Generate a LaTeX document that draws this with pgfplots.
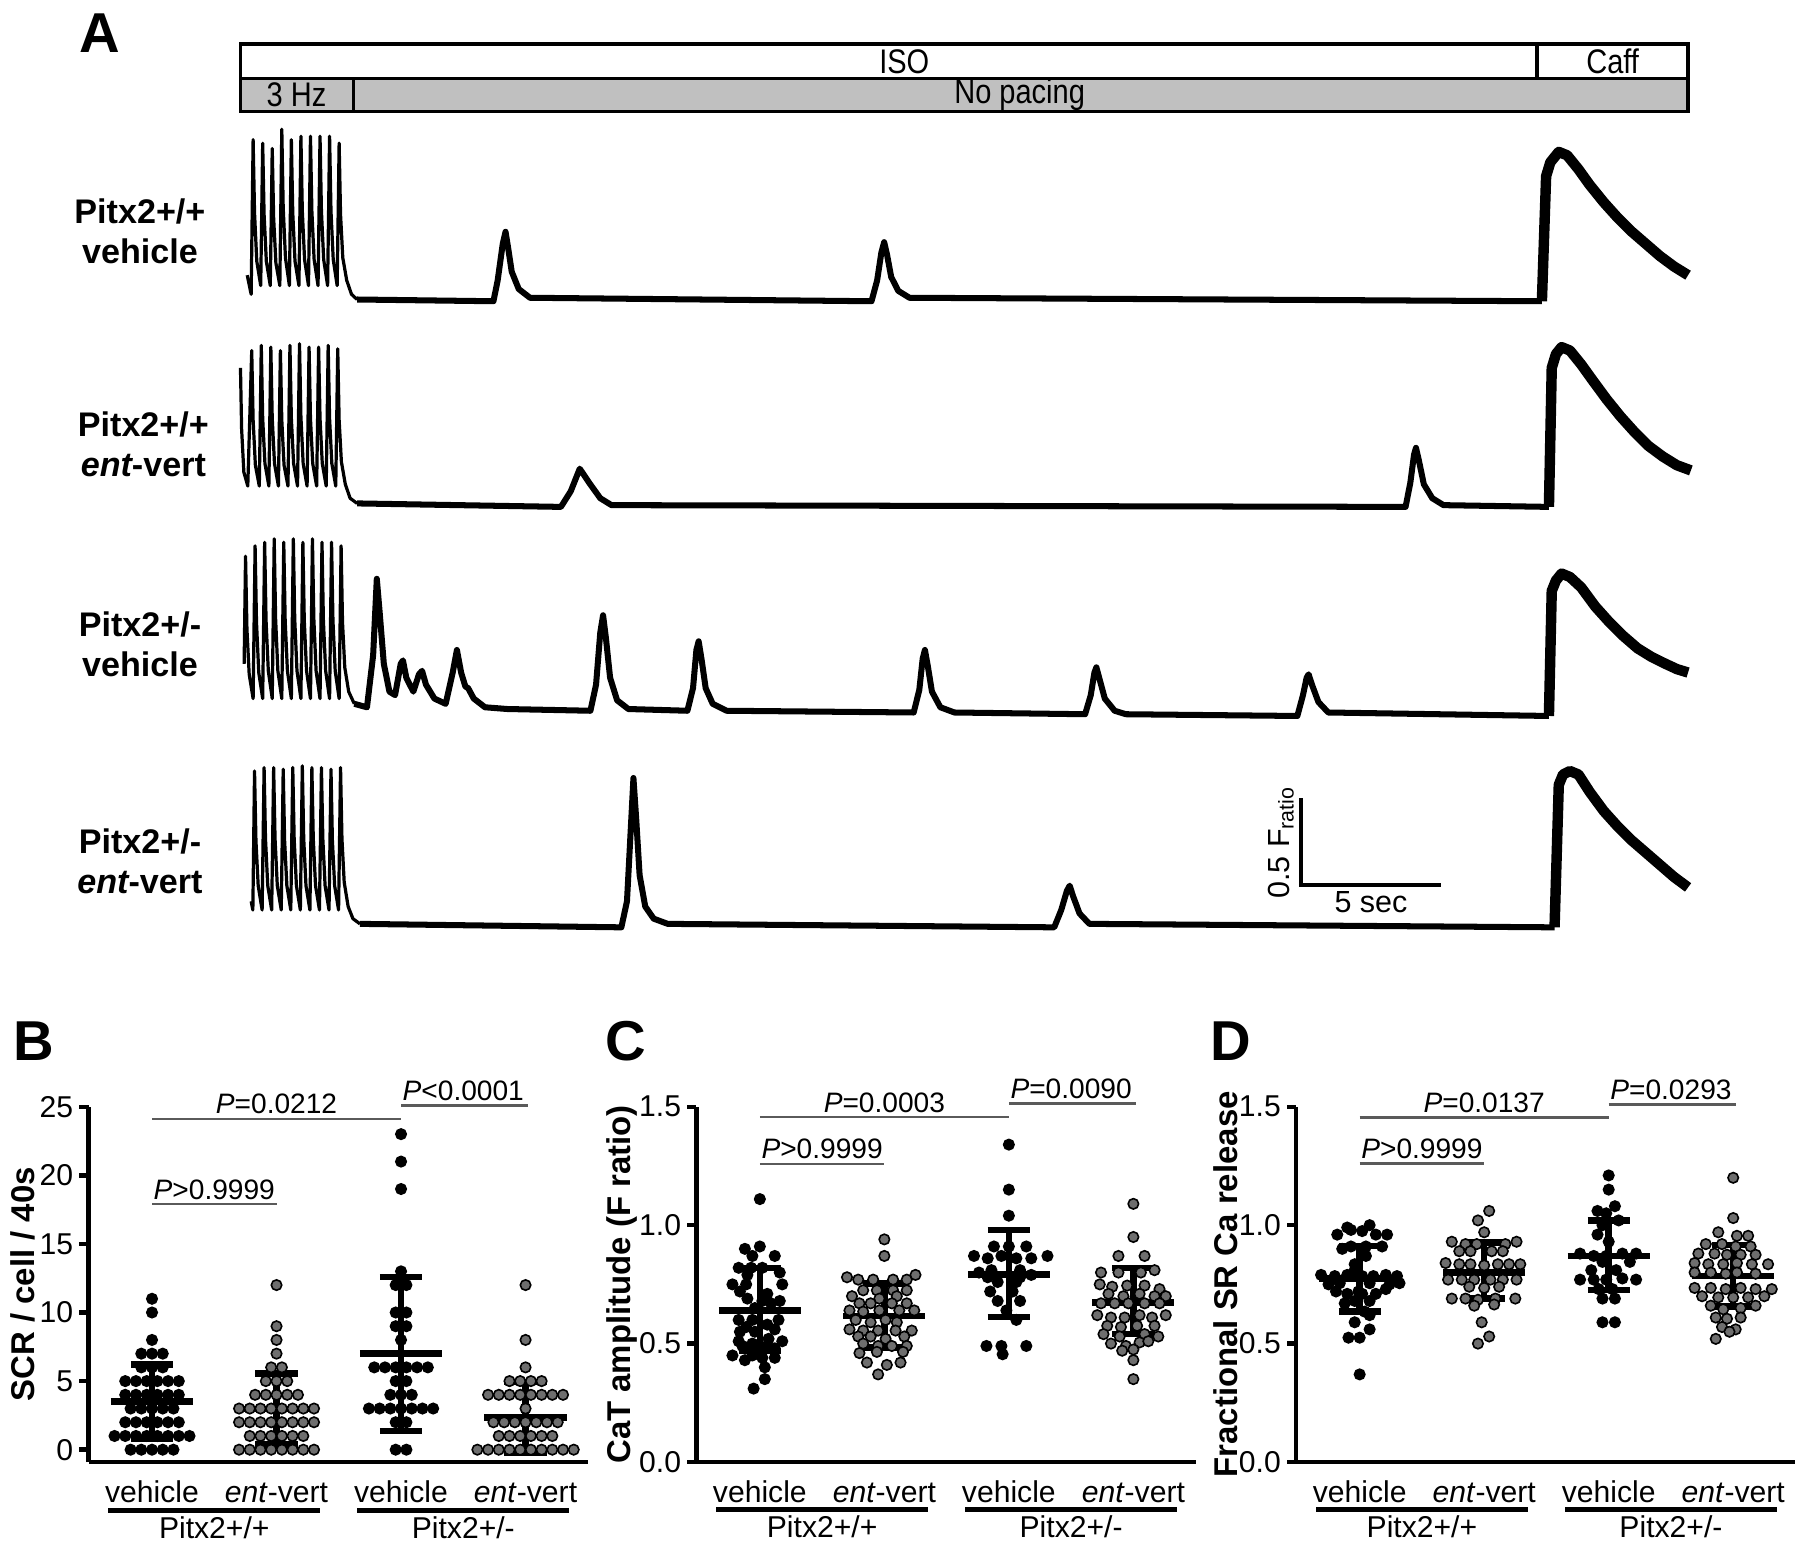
\documentclass[border=0pt]{standalone}
\usepackage{fontspec}
\setmainfont{Liberation Sans}
\usepackage{graphicx}
\usepackage{pgfplots}
\pgfplotsset{compat=1.18}

\definecolor{dotgray}{HTML}{6E6E6E}
\definecolor{bargray}{HTML}{C0C0C0}
\definecolor{brgray}{HTML}{5A5A5A}

\newcommand\barfont{\fontsize{8.5}{9}\selectfont}
\newcommand\labfont{\bfseries\fontsize{8.5}{10}\selectfont}
\newcommand\ylabfont{\bfseries\fontsize{8.2}{10}\selectfont}
\newcommand\pfont{\fontsize{7}{8}\selectfont}
\newcommand\gfont{\fontsize{7.5}{9}\selectfont}
\newcommand\letfont{\bfseries\fontsize{14}{16}\selectfont}

\tikzset{brk/.style={brgray, line width=0.6pt}}

\pgfplotsset{
  trace/.style={hide axis, scale only axis, width=12.67cm, height=1.824cm,
    xmin=0, xmax=51.5, ymin=-0.15, ymax=1.05, clip=false, anchor=south west},
  pace/.style={black, line width=0.8pt, line join=round},
  base/.style={black, line width=1.5pt, line join=round},
  caff/.style={black, line width=2.6pt, line join=round},
  dotpanel/.style={scale only axis, width=4.37cm, height=3.11cm,
    xmin=0.49, xmax=4.5, clip=false, anchor=south west,
    axis x line=bottom, axis y line=left,
    axis line style={-, line width=1.1pt},
    tick align=outside, major tick length=0.8mm,
    ytick style={line width=1.1pt, black},
    xtick={1,2,3,4}, xtick style={draw=none},
    xticklabels={vehicle,\textit{ent}-vert,vehicle,\textit{ent}-vert},
    tick label style={font=\gfont},
    xticklabel style={text height=1.6ex, text depth=0.3ex, yshift=1.5mm},
    yticklabel style={xshift=0.7mm},
    /pgf/number format/assume math mode=true},
  blk/.style={only marks, mark=*, mark size=1.3pt, mark options={draw=none, fill=black}},
  gry/.style={only marks, mark=*, mark size=1.3pt, mark options={draw=none, fill=dotgray}},
  msd/.style={black, line width=1.6pt, unbounded coords=jump, mark=none},
}

\begin{document}
\begin{tikzpicture}
\path (0,0) rectangle (15.68,-13.46);

% ---- panel A: protocol bars
\node[font=\letfont] at (0.80,-0.22) {A};
\draw[line width=0.9pt] (2.03,-0.32) rectangle (14.70,-0.62);
\draw[line width=0.9pt, fill=bargray] (2.03,-0.62) rectangle (14.70,-0.91);
\draw[line width=0.9pt] (13.38,-0.32) -- (13.38,-0.62);
\draw[line width=0.9pt] (3.02,-0.62) -- (3.02,-0.91);
\node[font=\barfont] at (7.84,-0.47) {\scalebox{0.85}[1]{ISO}};
\node[font=\barfont] at (14.04,-0.47) {\scalebox{0.85}[1]{Caff}};
\node[font=\barfont] at (2.52,-0.765) {\scalebox{0.85}[1]{3 Hz}};
\node[font=\barfont] at (8.85,-0.765) {\scalebox{0.85}[1]{No pacing}};

% ---- trace labels
\node[align=center, font=\labfont] at (1.15,-1.96) {Pitx2+/+\\vehicle};
\node[align=center, font=\labfont] at (1.18,-3.82) {Pitx2+/+\\{\itshape ent}-vert};
\node[align=center, font=\labfont] at (1.15,-5.57) {Pitx2+/-\\vehicle};
\node[align=center, font=\labfont] at (1.15,-7.47) {Pitx2+/-\\{\itshape ent}-vert};

% ---- trace 1
\begin{axis}[trace, at={(2.03cm,-2.798cm)}]
\addplot[pace] coordinates {(0.24,0.15) (0.38,0.04) (0.45,0.93) (0.50,0.51) (0.58,0.23) (0.72,0.09)
 (0.79,0.91) (0.84,0.50) (0.92,0.23) (1.06,0.09) (1.13,0.88) (1.18,0.48) (1.26,0.22) (1.40,0.09)
 (1.47,0.99) (1.52,0.54) (1.60,0.25) (1.74,0.09) (1.81,0.93) (1.86,0.51) (1.94,0.23) (2.08,0.09)
 (2.15,0.95) (2.20,0.52) (2.28,0.24) (2.42,0.09) (2.49,0.95) (2.54,0.52) (2.62,0.24) (2.76,0.09)
 (2.83,0.95) (2.88,0.52) (2.96,0.24) (3.10,0.09) (3.17,0.95) (3.22,0.52) (3.30,0.24) (3.44,0.09)
 (3.51,0.91) (3.56,0.50) (3.64,0.25) (3.78,0.12) (3.95,0.04) (4.15,0.01)};
\addplot[base] coordinates {(4.15,0.01) (9.0,0.0) (9.15,0.12) (9.33,0.33) (9.43,0.40) (9.52,0.31)
 (9.65,0.17) (9.9,0.07) (10.3,0.02) (22.45,0.0) (22.65,0.12) (22.8,0.28) (22.9,0.34) (23.0,0.27)
 (23.15,0.14) (23.4,0.06) (23.8,0.02) (46.3,0.0)};
\addplot[caff] coordinates {(46.3,0.0) (46.45,0.72) (46.6,0.80) (46.9,0.86) (47.2,0.84) (47.6,0.76)
 (48.0,0.67) (48.5,0.57) (49.0,0.48) (49.5,0.40) (50.0,0.33) (50.5,0.26) (51.0,0.20) (51.5,0.15)};
\end{axis}

% ---- trace 2
\begin{axis}[trace, at={(2.03cm,-4.598cm)}]
\addplot[pace] coordinates {(0.0,0.80) (0.04,0.45) (0.12,0.20) (0.26,0.12)
 (0.40,0.90) (0.45,0.50) (0.53,0.24) (0.67,0.12) (0.74,0.93) (0.79,0.51) (0.87,0.25) (1.01,0.12)
 (1.08,0.92) (1.13,0.51) (1.21,0.25) (1.35,0.12) (1.42,0.90) (1.47,0.50) (1.55,0.24) (1.69,0.12)
 (1.76,0.93) (1.81,0.51) (1.89,0.25) (2.03,0.12) (2.10,0.94) (2.15,0.52) (2.23,0.25) (2.37,0.12)
 (2.44,0.92) (2.49,0.51) (2.57,0.25) (2.71,0.12) (2.78,0.92) (2.83,0.51) (2.91,0.25) (3.05,0.12)
 (3.12,0.93) (3.17,0.51) (3.25,0.25) (3.39,0.12) (3.46,0.91) (3.51,0.50) (3.59,0.26) (3.73,0.13)
 (3.9,0.05) (4.15,0.02)};
\addplot[base] coordinates {(4.15,0.02) (11.4,0.0) (11.75,0.09) (12.07,0.22) (12.4,0.14) (12.8,0.05)
 (13.2,0.01) (41.45,0.0) (41.62,0.14) (41.75,0.30) (41.82,0.34) (41.92,0.27) (42.1,0.13) (42.4,0.05)
 (42.8,0.01) (46.55,0.0)};
\addplot[caff] coordinates {(46.55,0.0) (46.65,0.80) (46.8,0.88) (47.0,0.92) (47.3,0.90) (47.7,0.82)
 (48.1,0.73) (48.6,0.62) (49.1,0.52) (49.6,0.43) (50.1,0.35) (50.6,0.29) (51.1,0.24) (51.6,0.21)};
\end{axis}

% ---- trace 3
\begin{axis}[trace, at={(2.03cm,-6.428cm)}]
\addplot[pace] coordinates {(0.13,0.30) (0.18,0.92) (0.23,0.50) (0.31,0.24) (0.45,0.10)
 (0.52,0.98) (0.57,0.54) (0.65,0.25) (0.79,0.10) (0.86,1.00) (0.91,0.55) (0.99,0.26) (1.13,0.10)
 (1.20,1.02) (1.25,0.56) (1.33,0.26) (1.47,0.10) (1.54,1.00) (1.59,0.55) (1.67,0.26) (1.81,0.10)
 (1.88,1.02) (1.93,0.56) (2.01,0.26) (2.15,0.10) (2.22,1.00) (2.27,0.55) (2.35,0.26) (2.49,0.10)
 (2.56,1.02) (2.61,0.56) (2.69,0.26) (2.83,0.10) (2.90,1.00) (2.95,0.55) (3.03,0.26) (3.17,0.10)
 (3.24,1.00) (3.29,0.55) (3.37,0.26) (3.51,0.10) (3.58,0.98) (3.63,0.54) (3.71,0.28) (3.85,0.14)
 (4.05,0.07)};
\addplot[base] coordinates {(4.05,0.07) (4.5,0.05) (4.72,0.35) (4.85,0.79) (4.95,0.60) (5.1,0.30)
 (5.3,0.14) (5.5,0.12) (5.7,0.30) (5.78,0.32) (5.9,0.22) (6.15,0.14) (6.35,0.24) (6.46,0.26)
 (6.6,0.18) (6.9,0.10) (7.3,0.07) (7.55,0.25) (7.7,0.38) (7.85,0.25) (8.0,0.17) (8.1,0.16)
 (8.3,0.10) (8.7,0.05) (9.5,0.04) (12.45,0.03) (12.65,0.18) (12.8,0.48) (12.9,0.58) (13.0,0.45)
 (13.15,0.22) (13.4,0.09) (13.8,0.04) (15.9,0.03) (16.1,0.16) (16.22,0.38) (16.3,0.43) (16.4,0.33)
 (16.55,0.16) (16.8,0.07) (17.3,0.03) (23.95,0.02) (24.15,0.15) (24.27,0.33) (24.35,0.38)
 (24.45,0.29) (24.6,0.14) (24.9,0.05) (25.4,0.02) (30.05,0.01) (30.25,0.12) (30.38,0.25)
 (30.45,0.28) (30.55,0.22) (30.75,0.10) (31.1,0.03) (31.5,0.01) (37.6,0.0) (37.8,0.12)
 (37.93,0.22) (38.0,0.24) (38.12,0.18) (38.35,0.08) (38.7,0.02) (46.55,0.0)};
\addplot[caff] coordinates {(46.55,0.0) (46.65,0.72) (46.8,0.78) (47.0,0.82) (47.3,0.80) (47.7,0.74)
 (48.2,0.63) (48.7,0.54) (49.2,0.46) (49.7,0.39) (50.2,0.34) (50.7,0.30) (51.1,0.27) (51.5,0.25)};
\end{axis}

% ---- trace 4 with scale bar
\begin{axis}[trace, at={(2.03cm,-8.278cm)}]
\addplot[pace] coordinates {(0.38,0.15) (0.44,0.10) (0.50,0.90) (0.55,0.50) (0.63,0.24) (0.77,0.10)
 (0.84,0.92) (0.89,0.51) (0.97,0.24) (1.11,0.10) (1.18,0.92) (1.23,0.51) (1.31,0.24) (1.45,0.10)
 (1.52,0.91) (1.57,0.50) (1.65,0.24) (1.79,0.10) (1.86,0.92) (1.91,0.51) (1.99,0.24) (2.13,0.10)
 (2.20,0.93) (2.25,0.51) (2.33,0.24) (2.47,0.10) (2.54,0.92) (2.59,0.51) (2.67,0.24) (2.81,0.10)
 (2.88,0.92) (2.93,0.51) (3.01,0.24) (3.15,0.10) (3.22,0.91) (3.27,0.50) (3.35,0.24) (3.49,0.10)
 (3.56,0.92) (3.61,0.51) (3.69,0.26) (3.83,0.12) (4.0,0.05) (4.25,0.02)};
\addplot[base] coordinates {(4.25,0.02) (13.55,0.0) (13.75,0.15) (13.88,0.55) (13.98,0.86) (14.08,0.62)
 (14.2,0.30) (14.4,0.12) (14.7,0.05) (15.2,0.02) (28.95,0.0) (29.2,0.10) (29.4,0.21) (29.5,0.24)
 (29.62,0.18) (29.85,0.08) (30.2,0.02) (46.75,0.0)};
\addplot[caff] coordinates {(46.75,0.0) (46.9,0.82) (47.05,0.88) (47.3,0.90) (47.6,0.88) (48.0,0.78)
 (48.5,0.67) (49.0,0.58) (49.5,0.50) (50.0,0.43) (50.5,0.36) (51.0,0.29) (51.5,0.23)};
\draw[line width=0.9pt] (axis cs:37.72,0.743) -- (axis cs:37.72,0.243) -- (axis cs:42.72,0.243);
\node[rotate=90, anchor=south, inner sep=1.5pt, font=\fontsize{7.6}{9}\selectfont] at (axis cs:37.72,0.49) {0.5 F\textsubscript{ratio}};
\node[anchor=north, inner sep=1.5pt, font=\fontsize{7.6}{9}\selectfont] at (axis cs:40.22,0.243) {5 sec};
\end{axis}

% ---- panel B
\node[font=\letfont] at (0.22,-9.05) {B};
\begin{axis}[dotpanel, at={(0.70cm,-12.73cm)}, ymin=-0.9, ymax=25, ytick={0,5,10,15,20,25}]
\addplot[blk] coordinates {(1,11) (1,10) (1,8) (0.914,7) (1,7) (1.086,7) (0.914,6) (1,6) (1.086,6)
 (0.785,5) (0.871,5) (0.957,5) (1.043,5) (1.129,5) (1.215,5)
 (0.785,4) (0.871,4) (0.957,4) (1.043,4) (1.129,4) (1.215,4)
 (0.828,3) (0.914,3) (1,3) (1.086,3) (1.172,3)
 (0.785,2) (0.871,2) (0.957,2) (1.043,2) (1.129,2) (1.215,2)
 (0.699,1) (0.785,1) (0.871,1) (0.957,1) (1.043,1) (1.129,1) (1.215,1) (1.301,1)
 (0.828,0) (0.914,0) (1,0) (1.086,0) (1.172,0)};
\addplot[gry] coordinates {(2,12) (2,9) (2,8) (2,7) (1.957,6) (2.043,6) (1.914,5) (2,5) (2.086,5)
 (1.828,4) (1.914,4) (2,4) (2.086,4) (2.172,4)
 (1.699,3) (1.785,3) (1.871,3) (1.957,3) (2.043,3) (2.129,3) (2.215,3) (2.301,3)
 (1.699,2) (1.785,2) (1.871,2) (1.957,2) (2.043,2) (2.129,2) (2.215,2) (2.301,2)
 (1.785,1) (1.871,1) (1.957,1) (2.043,1) (2.129,1) (2.215,1)
 (1.699,0) (1.785,0) (1.871,0) (1.957,0) (2.043,0) (2.129,0) (2.215,0) (2.301,0)};
\addplot[blk] coordinates {(3,23) (3,21) (3,19) (3,13) (2.957,12) (3.043,12) (2.957,10) (3.043,10)
 (2.957,9) (3.043,9) (3,8) (2.785,6) (2.871,6) (2.957,6) (3.043,6) (3.129,6) (3.215,6)
 (2.957,5) (3.043,5) (2.914,4) (3,4) (3.086,4)
 (2.742,3) (2.828,3) (2.914,3) (3,3) (3.086,3) (3.172,3) (3.258,3)
 (2.957,2) (3.043,2) (2.957,0) (3.043,0)};
\addplot[gry] coordinates {(4,12) (4,8) (4,6) (3.871,5) (3.957,5) (4.043,5) (4.129,5)
 (3.699,4) (3.785,4) (3.871,4) (3.957,4) (4.043,4) (4.129,4) (4.215,4) (4.301,4) (4,3)
 (3.742,2) (3.828,2) (3.914,2) (4,2) (4.086,2) (4.172,2) (4.258,2)
 (3.785,1) (3.871,1) (3.957,1) (4.043,1) (4.129,1) (4.215,1)
 (3.613,0) (3.699,0) (3.785,0) (3.871,0) (3.957,0) (4.043,0) (4.129,0) (4.215,0) (4.301,0) (4.387,0)};
\addplot[msd] coordinates {(0.67,3.5) (1.33,3.5) (nan,nan) (1,0.8) (1,6.2) (nan,nan)
 (0.83,0.8) (1.17,0.8) (nan,nan) (0.83,6.2) (1.17,6.2) (nan,nan)
 (1.67,2.96) (2.33,2.96) (nan,nan) (2,0.37) (2,5.55) (nan,nan)
 (1.83,0.37) (2.17,0.37) (nan,nan) (1.83,5.55) (2.17,5.55) (nan,nan)
 (2.67,7.0) (3.33,7.0) (nan,nan) (3,1.36) (3,12.6) (nan,nan)
 (2.83,1.36) (3.17,1.36) (nan,nan) (2.83,12.6) (3.17,12.6) (nan,nan)
 (3.67,2.35) (4.33,2.35) (nan,nan) (4,-0.25) (4,4.94) (nan,nan)
 (3.83,-0.25) (4.17,-0.25) (nan,nan) (3.83,4.94) (4.17,4.94)};
\draw[brk] (axis cs:1,24.1) -- (axis cs:3,24.1);
\node[anchor=south, inner sep=1pt, font=\pfont] at (axis cs:2,24.1) {\textit{P}=0.0212};
\draw[brk] (axis cs:3,25.1) -- (axis cs:4.02,25.1);
\node[anchor=south, inner sep=1pt, font=\pfont] at (axis cs:3.5,25.1) {\textit{P}<0.0001};
\draw[brk] (axis cs:1,17.9) -- (axis cs:2,17.9);
\node[anchor=south, inner sep=1pt, font=\pfont] at (axis cs:1.5,17.9) {\textit{P}>0.9999};
\draw[line width=1.2pt] (axis cs:0.65,-4.42) -- (axis cs:2.35,-4.42);
\draw[line width=1.2pt] (axis cs:2.65,-4.42) -- (axis cs:4.35,-4.42);
\node[anchor=north, inner sep=0.5pt, font=\gfont] at (axis cs:1.5,-4.67) {Pitx2+/+};
\node[anchor=north, inner sep=0.5pt, font=\gfont] at (axis cs:3.5,-4.67) {Pitx2+/-};
\node[rotate=90, inner sep=0pt, font=\ylabfont] at (rel axis cs:-0.132,0.5) {SCR / cell / 40s};
\end{axis}

% ---- panel C
\node[font=\letfont] at (5.40,-9.05) {C};
\begin{axis}[dotpanel, at={(6.02cm,-12.73cm)}, ymin=0, ymax=1.5, ytick={0,0.5,1,1.5}, yticklabels={0.0,0.5,1.0,1.5}]
\addplot[blk] coordinates {(1.00,1.11) (0.88,0.90) (1.00,0.91) (0.94,0.87) (1.12,0.87)
 (0.83,0.82) (0.93,0.82) (1.02,0.82) (1.16,0.80) (0.90,0.79) (0.78,0.75) (0.89,0.75) (1.18,0.75)
 (0.84,0.72) (1.06,0.71) (0.90,0.69) (1.02,0.68) (1.16,0.68) (1.09,0.67) (0.96,0.65)
 (0.83,0.60) (0.94,0.60) (1.15,0.60) (0.89,0.57) (1.06,0.58) (1.12,0.56) (0.96,0.55) (0.84,0.55)
 (0.83,0.51) (0.94,0.50) (1.07,0.52) (1.18,0.51) (0.86,0.49) (0.95,0.48) (1.06,0.49) (1.12,0.48)
 (0.78,0.45) (0.94,0.45) (1.02,0.44) (1.12,0.44) (0.88,0.43) (1.04,0.40) (1.04,0.35) (0.95,0.31)};
\addplot[gry] coordinates {(2.00,0.94) (2.00,0.87)
 (1.70,0.78) (1.79,0.77) (1.91,0.77) (2.07,0.77) (2.18,0.77) (2.25,0.79)
 (1.83,0.725) (1.94,0.725) (2.07,0.725) (2.18,0.725) (1.74,0.70) (1.96,0.69) (2.10,0.70)
 (1.80,0.67) (1.89,0.67) (2.06,0.67) (2.18,0.67)
 (1.72,0.64) (1.83,0.635) (1.96,0.64) (2.12,0.64) (2.24,0.64)
 (1.77,0.60) (1.89,0.59) (2.01,0.60) (2.10,0.59)
 (1.72,0.56) (1.83,0.555) (1.95,0.555) (2.09,0.555) (2.22,0.555)
 (1.79,0.53) (1.89,0.53) (2.01,0.52) (2.16,0.53) (1.83,0.50) (1.95,0.49) (2.06,0.49) (2.18,0.49)
 (1.80,0.46) (1.94,0.465) (2.15,0.465) (1.86,0.42) (2.02,0.41) (2.13,0.42) (1.95,0.37)};
\addplot[blk] coordinates {(3.00,1.34) (3.00,1.15) (3.00,1.04) (2.88,0.91) (3.00,0.91) (3.14,0.91)
 (2.72,0.87) (2.83,0.86) (2.94,0.87) (3.06,0.86) (3.18,0.86) (3.31,0.87)
 (2.86,0.81) (3.09,0.81) (2.76,0.80) (3.18,0.79) (2.83,0.78) (3.09,0.78) (2.91,0.76) (3.06,0.76)
 (2.85,0.72) (3.03,0.72) (2.91,0.68) (3.09,0.68) (2.98,0.64) (3.06,0.60)
 (2.82,0.49) (2.94,0.49) (3.14,0.49) (2.95,0.455)};
\addplot[gry] coordinates {(4.00,1.09) (4.00,0.95) (3.88,0.87) (4.09,0.87)
 (3.74,0.80) (3.88,0.80) (4.06,0.80) (4.17,0.81)
 (3.73,0.75) (3.83,0.74) (3.95,0.745) (4.09,0.745) (4.21,0.73)
 (3.80,0.71) (3.92,0.70) (4.05,0.71) (4.17,0.70) (4.26,0.70)
 (3.74,0.67) (3.85,0.67) (3.96,0.67) (4.09,0.67) (4.21,0.67)
 (3.71,0.62) (3.82,0.61) (3.93,0.61) (4.05,0.62) (4.15,0.61) (4.26,0.62)
 (3.79,0.575) (3.90,0.57) (4.03,0.575) (4.17,0.575) (3.76,0.54) (3.89,0.53) (4.09,0.54) (4.20,0.53)
 (3.82,0.50) (3.94,0.49) (4.05,0.505) (4.12,0.51) (3.91,0.47) (4.00,0.475) (4.00,0.43) (4.00,0.35)};
\addplot[msd] coordinates {(0.67,0.64) (1.33,0.64) (nan,nan) (1,0.469) (1,0.818) (nan,nan)
 (0.83,0.469) (1.17,0.469) (nan,nan) (0.83,0.818) (1.17,0.818) (nan,nan)
 (1.67,0.616) (2.33,0.616) (nan,nan) (2,0.484) (2,0.754) (nan,nan)
 (1.83,0.484) (2.17,0.484) (nan,nan) (1.83,0.754) (2.17,0.754) (nan,nan)
 (2.67,0.792) (3.33,0.792) (nan,nan) (3,0.612) (3,0.98) (nan,nan)
 (2.83,0.612) (3.17,0.612) (nan,nan) (2.83,0.98) (3.17,0.98) (nan,nan)
 (3.67,0.673) (4.33,0.673) (nan,nan) (4,0.54) (4,0.818) (nan,nan)
 (3.83,0.54) (4.17,0.54) (nan,nan) (3.83,0.818) (4.17,0.818)};
\draw[brk] (axis cs:1,1.456) -- (axis cs:3,1.456);
\node[anchor=south, inner sep=1pt, font=\pfont] at (axis cs:2,1.456) {\textit{P}=0.0003};
\draw[brk] (axis cs:3,1.513) -- (axis cs:4.02,1.513);
\node[anchor=south, inner sep=1pt, font=\pfont] at (axis cs:3.5,1.513) {\textit{P}=0.0090};
\draw[brk] (axis cs:1,1.258) -- (axis cs:2,1.258);
\node[anchor=south, inner sep=1pt, font=\pfont] at (axis cs:1.5,1.258) {\textit{P}>0.9999};
\draw[line width=1.2pt] (axis cs:0.65,-0.202) -- (axis cs:2.35,-0.202);
\draw[line width=1.2pt] (axis cs:2.65,-0.202) -- (axis cs:4.35,-0.202);
\node[anchor=north, inner sep=0.5pt, font=\gfont] at (axis cs:1.5,-0.216) {Pitx2+/+};
\node[anchor=north, inner sep=0.5pt, font=\gfont] at (axis cs:3.5,-0.216) {Pitx2+/-};
\node[rotate=90, inner sep=0pt, font=\ylabfont] at (rel axis cs:-0.148,0.5) {CaT amplitude (F ratio)};
\end{axis}

% ---- panel D
\node[font=\letfont] at (10.70,-9.05) {D};
\begin{axis}[dotpanel, at={(11.27cm,-12.73cm)}, ymin=0, ymax=1.5, ytick={0,0.5,1,1.5}, yticklabels={0.0,0.5,1.0,1.5}]
\addplot[blk] coordinates {(1.00,0.37) (0.91,0.525) (1.00,0.525) (1.08,0.56) (0.96,0.59) (1.08,0.62)
 (1.04,0.635) (0.88,0.67) (0.96,0.68) (1.08,0.68) (0.90,0.71) (1.02,0.71) (1.13,0.71)
 (0.81,0.72) (0.99,0.72) (1.21,0.73) (0.75,0.75) (0.84,0.755) (1.08,0.755) (1.24,0.75) (1.32,0.755)
 (0.69,0.79) (0.80,0.785) (0.90,0.79) (1.02,0.785) (1.11,0.785) (1.21,0.79) (1.30,0.785)
 (0.96,0.81) (0.96,0.835) (1.05,0.87) (0.86,0.90) (0.93,0.91) (1.05,0.91) (1.18,0.91)
 (0.82,0.96) (0.93,0.98) (1.02,0.975) (1.13,0.96) (1.22,0.96) (0.90,0.99) (1.08,1.00)};
\addplot[gry] coordinates {(2.04,1.06) (1.95,1.02) (2.00,0.97)
 (1.74,0.93) (1.85,0.92) (1.94,0.92) (2.17,0.92) (2.26,0.93)
 (1.80,0.89) (1.89,0.89) (2.06,0.89) (2.15,0.89)
 (1.69,0.84) (1.80,0.835) (1.89,0.835) (2.00,0.83) (2.11,0.835) (2.20,0.835) (2.29,0.835)
 (1.71,0.77) (1.82,0.77) (1.92,0.77) (2.05,0.77) (2.15,0.77) (2.26,0.77)
 (1.88,0.74) (2.00,0.735) (2.12,0.74) (1.74,0.69) (1.85,0.69) (1.95,0.685) (2.09,0.69) (2.25,0.69)
 (1.92,0.66) (2.08,0.665) (1.98,0.59) (2.04,0.53) (1.95,0.50)};
\addplot[blk] coordinates {(3.00,1.21) (3.00,1.15) (3.05,1.08) (2.91,1.06) (2.98,1.05)
 (3.08,1.02) (2.95,1.00) (2.91,0.96) (3.00,0.93)
 (2.77,0.88) (2.88,0.87) (2.98,0.87) (3.11,0.88) (3.22,0.88) (2.95,0.845) (3.17,0.845)
 (2.86,0.81) (3.06,0.81) (2.77,0.77) (2.88,0.77) (2.98,0.77) (3.11,0.775) (3.22,0.77)
 (2.92,0.73) (3.03,0.73) (2.95,0.69) (3.05,0.69) (2.95,0.59) (3.05,0.59)};
\addplot[gry] coordinates {(4.00,1.20) (4.00,1.03) (3.88,0.97) (4.03,0.955) (4.12,0.955)
 (3.78,0.92) (3.91,0.92) (4.02,0.91) (4.14,0.91)
 (3.72,0.88) (3.85,0.88) (3.95,0.875) (4.06,0.875) (4.18,0.875)
 (3.69,0.84) (3.80,0.835) (3.92,0.835) (4.03,0.84) (4.15,0.835) (4.28,0.835)
 (3.69,0.80) (3.82,0.80) (3.94,0.795) (4.03,0.80) (4.18,0.795)
 (3.69,0.735) (3.82,0.735) (3.94,0.73) (4.06,0.735) (4.18,0.73) (4.31,0.73)
 (3.75,0.70) (3.88,0.695) (4.00,0.695) (4.12,0.695) (4.25,0.70)
 (3.82,0.66) (3.92,0.645) (4.06,0.65) (4.18,0.66) (3.86,0.61) (3.95,0.605) (4.06,0.61)
 (3.91,0.57) (4.02,0.56) (3.97,0.55) (3.86,0.52)};
\addplot[msd] coordinates {(0.67,0.775) (1.33,0.775) (nan,nan) (1,0.635) (1,0.913) (nan,nan)
 (0.83,0.635) (1.17,0.635) (nan,nan) (0.83,0.913) (1.17,0.913) (nan,nan)
 (1.67,0.80) (2.33,0.80) (nan,nan) (2,0.69) (2,0.927) (nan,nan)
 (1.83,0.69) (2.17,0.69) (nan,nan) (1.83,0.927) (2.17,0.927) (nan,nan)
 (2.67,0.87) (3.33,0.87) (nan,nan) (3,0.727) (3,1.02) (nan,nan)
 (2.83,0.727) (3.17,0.727) (nan,nan) (2.83,1.02) (3.17,1.02) (nan,nan)
 (3.67,0.785) (4.33,0.785) (nan,nan) (4,0.656) (4,0.916) (nan,nan)
 (3.83,0.656) (4.17,0.656) (nan,nan) (3.83,0.916) (4.17,0.916)};
\draw[brk] (axis cs:1,1.455) -- (axis cs:3,1.455);
\node[anchor=south, inner sep=1pt, font=\pfont] at (axis cs:2,1.455) {\textit{P}=0.0137};
\draw[brk] (axis cs:3,1.51) -- (axis cs:4.02,1.51);
\node[anchor=south, inner sep=1pt, font=\pfont] at (axis cs:3.5,1.51) {\textit{P}=0.0293};
\draw[brk] (axis cs:1,1.26) -- (axis cs:2,1.26);
\node[anchor=south, inner sep=1pt, font=\pfont] at (axis cs:1.5,1.26) {\textit{P}>0.9999};
\draw[line width=1.2pt] (axis cs:0.65,-0.202) -- (axis cs:2.35,-0.202);
\draw[line width=1.2pt] (axis cs:2.65,-0.202) -- (axis cs:4.35,-0.202);
\node[anchor=north, inner sep=0.5pt, font=\gfont] at (axis cs:1.5,-0.216) {Pitx2+/+};
\node[anchor=north, inner sep=0.5pt, font=\gfont] at (axis cs:3.5,-0.216) {Pitx2+/-};
\node[rotate=90, inner sep=0pt, font=\ylabfont] at (rel axis cs:-0.142,0.5) {Fractional SR Ca release};
\end{axis}
\end{tikzpicture}
\end{document}
